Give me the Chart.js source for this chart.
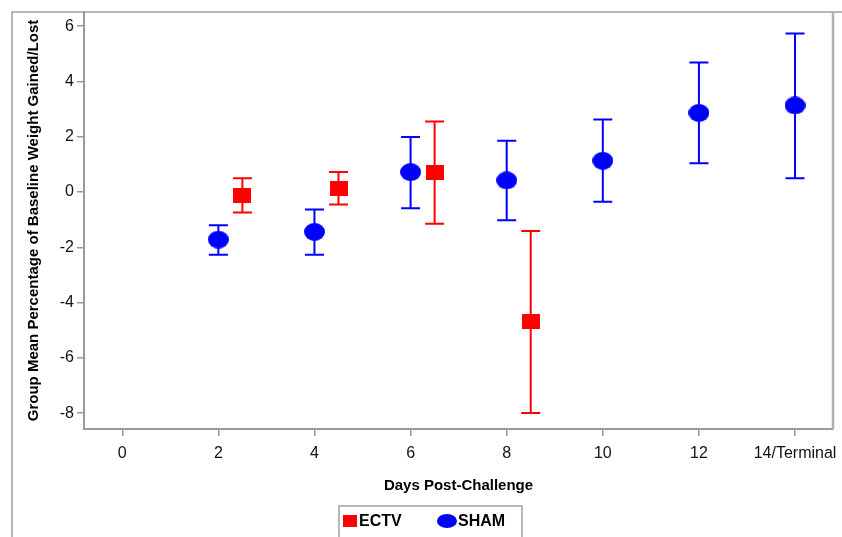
<!DOCTYPE html>
<html>
<head>
<meta charset="utf-8">
<script src="https://cdn.jsdelivr.net/npm/chart.js@4.4.1/dist/chart.umd.min.js"></script>
<style>
  html, body { margin: 0; padding: 0; background: #ffffff; }
  #c { display: block; }
</style>
</head>
<body>
<canvas id="c" width="842" height="537"></canvas>
<script>
// ---- Data ----
const seriesNames = ['ECTV', 'SHAM'];

const ectvDays = [2.5, 4.5, 6.5, 8.5];
const ectvMean = [-0.11, 0.13, 0.70, -4.69];
const ectvLow  = [-0.74, -0.45, -1.15, -7.99];
const ectvHigh = [0.50, 0.72, 2.55, -1.41];

const shamDays = [2, 4, 6, 8, 10, 12, 14];
const shamMean = [-1.72, -1.44, 0.72, 0.42, 1.13, 2.86, 3.13];
const shamLow  = [-2.27, -2.27, -0.59, -1.02, -0.35, 1.04, 0.50];
const shamHigh = [-1.20, -0.63, 1.99, 1.85, 2.62, 4.68, 5.73];

const xTickValues = [0, 2, 4, 6, 8, 10, 12, 14];
const xTickLabels = ['0', '2', '4', '6', '8', '10', '12', '14/Terminal'];
const yTickValues = [-8, -6, -4, -2, 0, 2, 4, 6];

const xTitle = 'Days Post-Challenge';
const yTitle = 'Group Mean Percentage of Baseline Weight Gained/Lost';

// ---- Styles ----
const RED = '#ff0000';
const BLUE = '#0000ff';
const AXIS_GRAY = '#9a9a9a';
const TEXT = '#111111';
const FONT = "'Liberation Sans', Arial, sans-serif";

function makeSquare(w, h, color) {
  const cv = document.createElement('canvas');
  cv.width = w; cv.height = h;
  const g = cv.getContext('2d');
  g.fillStyle = color;
  g.fillRect(0, 0, w, h);
  return cv;
}
function makeEllipse(w, h, color) {
  const cv = document.createElement('canvas');
  cv.width = w; cv.height = h;
  const g = cv.getContext('2d');
  g.fillStyle = color;
  g.beginPath();
  g.ellipse(w / 2, h / 2, w / 2, h / 2, 0, 0, Math.PI * 2);
  g.fill();
  return cv;
}
const squareMarker = makeSquare(18, 15, RED);
const circleMarker = makeEllipse(21, 18, BLUE);

const toPoints = (xs, ys) => xs.map((x, i) => ({ x: x, y: ys[i] }));

// ---- Error bars plugin ----
const errorBars = {
  id: 'errorBars',
  beforeDatasetsDraw(chart) {
    const { ctx } = chart;
    const xs = chart.scales.x, ys = chart.scales.y;
    chart.data.datasets.forEach(ds => {
      ctx.save();
      ctx.strokeStyle = ds.errColor;
      ctx.lineWidth = 2;
      ds.days.forEach((d, i) => {
        const px = xs.getPixelForValue(d);
        const pLo = ys.getPixelForValue(ds.low[i]);
        const pHi = ys.getPixelForValue(ds.high[i]);
        const cap = 9.5;
        ctx.beginPath();
        ctx.moveTo(px, pLo); ctx.lineTo(px, pHi);
        ctx.moveTo(px - cap, pHi); ctx.lineTo(px + cap, pHi);
        ctx.moveTo(px - cap, pLo); ctx.lineTo(px + cap, pLo);
        ctx.stroke();
      });
      ctx.restore();
    });
  }
};

// ---- Frames + legend plugin ----
const frames = {
  id: 'frames',
  afterDraw(chart) {
    const { ctx, chartArea: a } = chart;
    ctx.save();
    // outer figure frame (top + left)
    ctx.strokeStyle = '#a0a0a0';
    ctx.lineWidth = 1.5;
    ctx.beginPath();
    ctx.moveTo(12, 537); ctx.lineTo(12, 12); ctx.lineTo(842, 12);
    ctx.stroke();
    // plot frame right side
    ctx.strokeStyle = '#b0b0b0';
    ctx.lineWidth = 2.5;
    ctx.beginPath();
    ctx.moveTo(a.right, a.top); ctx.lineTo(a.right, a.bottom);
    ctx.stroke();

    // legend
    const lx = 339, ly = 506, lw = 183, lh = 40;
    ctx.strokeStyle = '#a0a0a0';
    ctx.lineWidth = 1.5;
    ctx.strokeRect(lx, ly, lw, lh);
    ctx.fillStyle = RED;
    ctx.fillRect(343, 515, 14, 12);
    ctx.fillStyle = BLUE;
    ctx.beginPath();
    ctx.ellipse(447, 521, 10, 7, 0, 0, Math.PI * 2);
    ctx.fill();
    ctx.fillStyle = '#000';
    ctx.font = 'bold 16px ' + FONT;
    ctx.textBaseline = 'middle';
    ctx.textAlign = 'left';
    ctx.fillText(seriesNames[0], 359, 522);
    ctx.fillText(seriesNames[1], 458, 522);
    ctx.restore();
  }
};

new Chart(document.getElementById('c'), {
  type: 'scatter',
  data: {
    datasets: [
      {
        label: seriesNames[0],
        data: toPoints(ectvDays, ectvMean),
        days: ectvDays, low: ectvLow, high: ectvHigh, errColor: RED,
        pointStyle: squareMarker,
        backgroundColor: RED, borderColor: RED,
        showLine: false
      },
      {
        label: seriesNames[1],
        data: toPoints(shamDays, shamMean),
        days: shamDays, low: shamLow, high: shamHigh, errColor: BLUE,
        pointStyle: circleMarker,
        backgroundColor: BLUE, borderColor: BLUE,
        showLine: false
      }
    ]
  },
  options: {
    responsive: false,
    devicePixelRatio: 1,
    animation: false,
    layout: { padding: { left: 0, right: 9, top: 12, bottom: 40 } },
    plugins: {
      legend: { display: false },
      tooltip: { enabled: false }
    },
    scales: {
      x: {
        type: 'linear',
        min: -0.796,
        max: 14.79,
        afterBuildTicks(scale) { scale.ticks = xTickValues.map(v => ({ value: v })); },
        afterFit(scale) { scale.height = 68; scale.paddingLeft = 0; scale.paddingRight = 0; },
        ticks: {
          callback(v) { const i = xTickValues.indexOf(v); return i >= 0 ? xTickLabels[i] : ''; },
          color: TEXT,
          font: { family: FONT, size: 16 },
          padding: 8,
          maxRotation: 0,
          autoSkip: false
        },
        grid: { drawOnChartArea: false, drawTicks: true, tickLength: 7, color: AXIS_GRAY, lineWidth: 1.5 },
        border: { display: true, color: AXIS_GRAY, width: 2 },
        title: {
          display: true, text: xTitle, color: '#000',
          font: { family: FONT, size: 15, weight: 'bold' },
          padding: { top: 0, bottom: 2 }
        }
      },
      y: {
        type: 'linear',
        min: -8.57,
        max: 6.51,
        afterBuildTicks(scale) { scale.ticks = yTickValues.map(v => ({ value: v })); },
        afterFit(scale) { scale.width = 84; scale.paddingTop = 0; scale.paddingBottom = 0; },
        ticks: {
          color: TEXT,
          font: { family: FONT, size: 16 },
          padding: 3
        },
        grid: { drawOnChartArea: false, drawTicks: true, tickLength: 7, color: AXIS_GRAY, lineWidth: 1.5 },
        border: { display: true, color: AXIS_GRAY, width: 2 },
        title: {
          display: true, text: yTitle, color: '#000',
          font: { family: FONT, size: 15, weight: 'bold' },
          padding: { top: 25, bottom: 0 }
        }
      }
    }
  },
  plugins: [errorBars, frames]
});
</script>
</body>
</html>
